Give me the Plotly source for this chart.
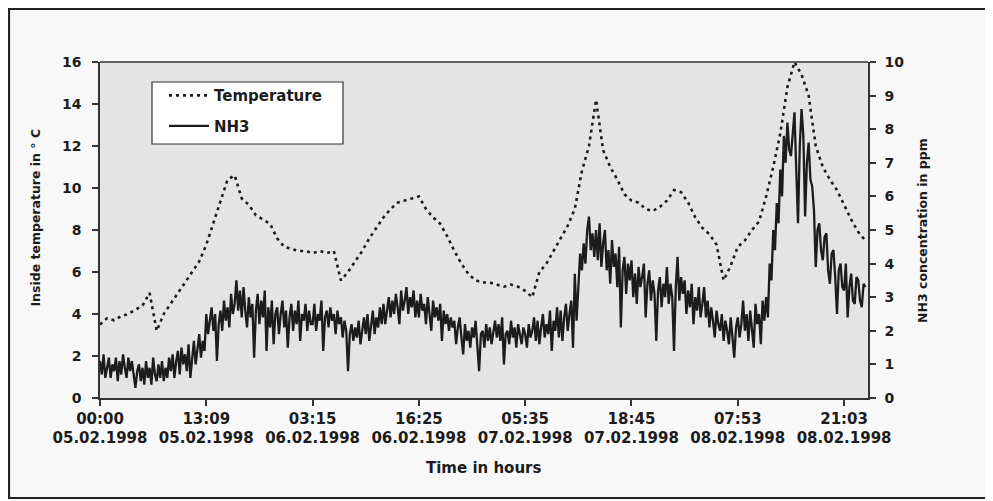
import plotly.graph_objects as go

# NH3 concentration in ppm (two samples per index step)
nh3_ppm = [
    1.1, 0.7, 1.3, 0.6, 0.9, 1.2, 0.6, 1.0, 0.8, 1.2, 0.5, 1.1, 0.7, 1.3, 0.9, 0.6, 1.2, 0.8, 1.1, 0.6,
    0.3, 0.8, 1.0, 0.5, 0.9, 0.4, 1.1, 0.6, 0.9, 0.4, 1.2, 0.7, 0.5, 1.0, 0.6, 1.1, 0.5, 0.9, 0.6, 1.2,
    0.8, 1.3, 0.6, 1.1, 1.4, 0.7, 1.5, 1.0, 1.3, 0.8, 1.6, 0.6, 1.2, 1.7, 1.0, 1.5, 1.9, 1.2, 1.7, 1.4,
    2.5, 1.9, 2.3, 2.7, 2.0, 2.5, 1.1, 2.2, 2.6, 2.0, 2.9, 2.3, 2.7, 2.1, 3.1, 2.5, 2.8, 3.5, 2.6, 3.2,
    2.4, 3.3, 2.6, 2.1, 3.0, 2.4, 2.8, 1.2, 2.6, 3.1, 2.2, 2.9, 2.4, 3.2, 1.4, 2.7, 2.1, 2.9, 1.6, 2.5,
    2.7, 1.9, 2.5, 2.9, 2.1, 2.6, 1.5, 2.4, 2.8, 2.0, 2.6, 2.2, 2.9, 1.7, 2.5, 2.3, 2.8, 2.0, 2.6, 2.2,
    2.2, 2.8, 2.0, 2.5, 2.3, 2.9, 1.4, 2.4, 2.6, 2.1, 2.7, 2.3, 2.5, 1.9, 2.6, 2.2, 2.4, 1.8, 2.3, 2.0,
    0.8, 1.9, 2.2, 1.7, 2.1, 1.8, 2.3, 1.6, 2.0, 2.4, 1.9, 2.5, 1.7, 2.2, 2.6, 1.9, 2.4, 2.1, 2.7, 2.2,
    2.8, 2.2, 2.6, 3.0, 2.4, 2.9, 2.5, 3.1, 2.7, 2.2, 3.2, 2.6, 2.9, 3.3, 2.5, 3.0, 2.7, 3.2, 2.4, 2.9,
    2.4, 3.1, 2.6, 2.8, 2.2, 3.0, 2.5, 2.0, 2.9, 2.4, 2.7, 2.3, 2.8, 1.7, 2.6, 2.2, 2.5, 2.0, 2.4, 2.1,
    2.3, 1.6, 2.1, 2.4, 1.8, 1.3, 2.2, 1.7, 2.0, 1.5, 2.1, 1.8, 2.3, 1.6, 0.8, 1.9, 2.0, 1.5, 2.2, 1.7,
    2.1, 1.6, 2.0, 2.3, 1.8, 2.2, 1.7, 2.4, 1.0, 1.9, 2.0, 1.6, 2.3, 1.8, 2.1, 1.5, 2.2, 1.9, 1.6, 2.1,
    1.9, 1.5, 2.2, 1.8, 2.0, 2.4, 1.7, 2.3, 1.6, 2.1, 2.5, 1.8, 2.2, 1.9, 2.6, 1.4, 2.3, 2.0, 2.7, 1.8,
    2.6, 1.7, 2.4, 2.8, 2.0, 2.5, 2.9, 1.5, 3.7, 2.3, 3.4, 4.3, 3.8, 4.6, 4.0, 5.0, 5.4, 4.4, 4.9, 4.2,
    5.0, 4.1, 5.2, 3.9, 4.6, 5.0, 3.8, 4.4, 3.4, 4.7, 3.9, 4.3, 3.3, 4.5, 2.1, 3.8, 4.2, 3.1, 4.0, 3.5,
    4.1, 3.0, 3.7, 2.8, 3.9, 3.3, 3.6, 4.0, 2.4, 3.4, 3.8, 2.9, 3.5, 3.1, 1.7, 3.2, 3.6, 2.7, 3.4, 3.0,
    3.9, 2.8, 3.4, 3.0, 1.4, 3.3, 4.2, 2.9, 3.6, 3.1, 3.5, 2.5, 3.2, 2.7, 3.4, 2.2, 3.0, 2.6, 3.3, 2.4,
    2.8, 3.3, 2.4, 2.9, 2.1, 2.7, 2.3, 1.8, 2.6, 2.2, 2.0, 2.5, 1.7, 2.3, 2.0, 1.6, 2.4, 1.8, 1.2, 2.1,
    2.4, 1.8, 2.2, 2.9, 2.0, 2.5, 1.7, 2.6, 2.1, 1.5, 2.8, 2.2, 2.5, 1.6, 2.9, 2.3, 3.0, 2.4, 4.0, 3.5,
    5.0, 4.4, 5.8, 5.2, 6.8, 6.0, 7.8, 7.0, 8.2, 7.4, 7.2, 8.0, 8.5, 6.8, 5.2, 7.5, 8.6, 7.8, 5.4, 7.0,
    7.6, 6.5, 6.3, 5.6, 3.9, 5.0, 5.2, 4.4, 4.1, 4.8, 4.9, 3.8, 3.4, 4.3, 4.4, 3.6, 2.5, 3.8, 4.0, 3.3,
    3.2, 4.0, 2.4, 3.3, 3.7, 2.9, 2.8, 3.6, 3.5, 2.9, 2.7, 3.4, 3.3,
]

# Inside temperature in deg C (one sample every index step of 2)
temperature_c = [
    3.5, 3.8, 3.7, 3.9, 4.0, 4.2, 4.4, 5.0, 3.2, 4.0,
    4.5, 5.0, 5.5, 6.0, 6.5, 7.3, 8.3, 9.4, 10.4, 10.6,
    9.5, 9.2, 8.7, 8.5, 8.3, 7.6, 7.2, 7.1, 7.0, 7.0,
    6.9, 7.0, 6.9, 7.0, 5.6, 6.0, 6.5, 7.0, 7.6, 8.1,
    8.6, 9.0, 9.3, 9.4, 9.5, 9.6, 9.0, 8.6, 8.3, 7.7,
    7.0, 6.4, 5.9, 5.6, 5.5, 5.5, 5.4, 5.3, 5.4, 5.3,
    5.1, 4.8, 6.0, 6.4, 7.0, 7.6, 8.2, 9.0, 10.8, 12.0,
    14.2, 11.8, 11.0, 10.4, 9.7, 9.4, 9.3, 9.0, 8.9, 9.1,
    9.4, 9.9, 9.8, 9.3, 8.6, 8.1, 7.8, 7.3, 5.6, 6.3,
    7.2, 7.5, 8.0, 8.4, 9.6, 11.0, 12.6, 14.8, 16.0, 15.4,
    14.4, 12.0, 11.0, 10.4, 9.9, 9.2, 8.5, 7.9, 7.5,
]

# Category tick labels (every 30th index step)
tick_index = [0, 30, 60, 90, 120, 150, 180, 210]
tick_labels = [
    "00:00<br>05.02.1998", "13:09<br>05.02.1998", "03:15<br>06.02.1998",
    "16:25<br>06.02.1998", "05:35<br>07.02.1998", "18:45<br>07.02.1998",
    "07:53<br>08.02.1998", "21:03<br>08.02.1998",
]

nh3_index = [i * 0.5 for i in range(len(nh3_ppm))]
temp_index = list(range(0, 2 * len(temperature_c), 2))

FONT = "DejaVu Sans"
INK = "#1c1c1c"

fig = go.Figure()
fig.add_trace(go.Scatter(
    x=temp_index, y=temperature_c, name="Temperature", mode="lines",
    legendgroup="t",
    line=dict(color=INK, width=2.6, dash="3px,4px"), yaxis="y",
))
fig.add_trace(go.Scatter(
    x=nh3_index, y=nh3_ppm, name="NH3", mode="lines",
    legendgroup="n",
    line=dict(color=INK, width=2.3), yaxis="y2",
))

axis_common = dict(
    showline=True, linecolor="#333333", linewidth=1.5, showgrid=False,
    zeroline=False, ticks="outside", ticklen=6, tickcolor="#333333",
    tickwidth=1.5,
)

fig.update_layout(
    width=985, height=493,
    margin=dict(l=92, r=125, t=54, b=103),
    paper_bgcolor="#f8f8f8",
    plot_bgcolor="#e4e4e4",
    font=dict(family=FONT, color=INK, weight="bold"),
    showlegend=True,
    legend=dict(
        x=0.0833, y=0.949, xanchor="left", yanchor="top",
        bgcolor="rgba(0,0,0,0)", borderwidth=0,
        font=dict(family=FONT, size=15, color=INK, weight="bold"),
        tracegroupgap=8, itemwidth=40,
    ),
    xaxis=dict(
        **axis_common, range=[0, 216.75], tickvals=tick_index,
        ticktext=tick_labels, mirror=False,
        tickfont=dict(family=FONT, size=15, color=INK, weight="bold"),
    ),
    yaxis=dict(
        **axis_common, range=[0, 16], dtick=2, ticklabelstandoff=8,
        tickfont=dict(family=FONT, size=14, color=INK, weight="bold"),
    ),
    yaxis2=dict(
        **axis_common, range=[0, 10], dtick=1, overlaying="y", side="right",
        ticklabelstandoff=6,
        tickfont=dict(family=FONT, size=14, color=INK, weight="bold"),
    ),
    shapes=[
        # top border of the plot area
        dict(type="line", xref="paper", yref="paper", x0=0, x1=1, y0=1, y1=1,
             line=dict(color="#333333", width=1.5)),
        # legend box
        dict(type="rect", xref="paper", yref="paper",
             x0=0.0677, x1=0.3164, y0=0.756, y1=0.9405,
             fillcolor="#ffffff", line=dict(color="#333333", width=1.2),
             layer="above"),
        # outer frame of the whole chart
        dict(type="rect", xref="paper", yref="paper",
             x0=-0.1185, x1=1.1562, y0=-0.2976, y1=1.1577,
             line=dict(color="#222222", width=2.2), layer="below"),
    ],
    annotations=[
        dict(text="Time in hours", xref="paper", yref="paper", x=0.5, y=-0.2083,
             xanchor="center", yanchor="middle", showarrow=False,
             font=dict(family=FONT, size=15, color=INK, weight="bold")),
        dict(text="Inside temperature in ° C", xref="paper", yref="paper",
             x=-0.0833, y=0.537, xanchor="center", yanchor="middle",
             textangle=-90, showarrow=False,
             font=dict(family=FONT, size=12.5, color=INK, weight="bold")),
        dict(text="NH3 concentration in ppm", xref="paper", yref="paper",
             x=1.0703, y=0.50, xanchor="center", yanchor="middle",
             textangle=-90, showarrow=False,
             font=dict(family=FONT, size=12.5, color=INK, weight="bold")),
    ],
)

fig.write_html("out.html")
